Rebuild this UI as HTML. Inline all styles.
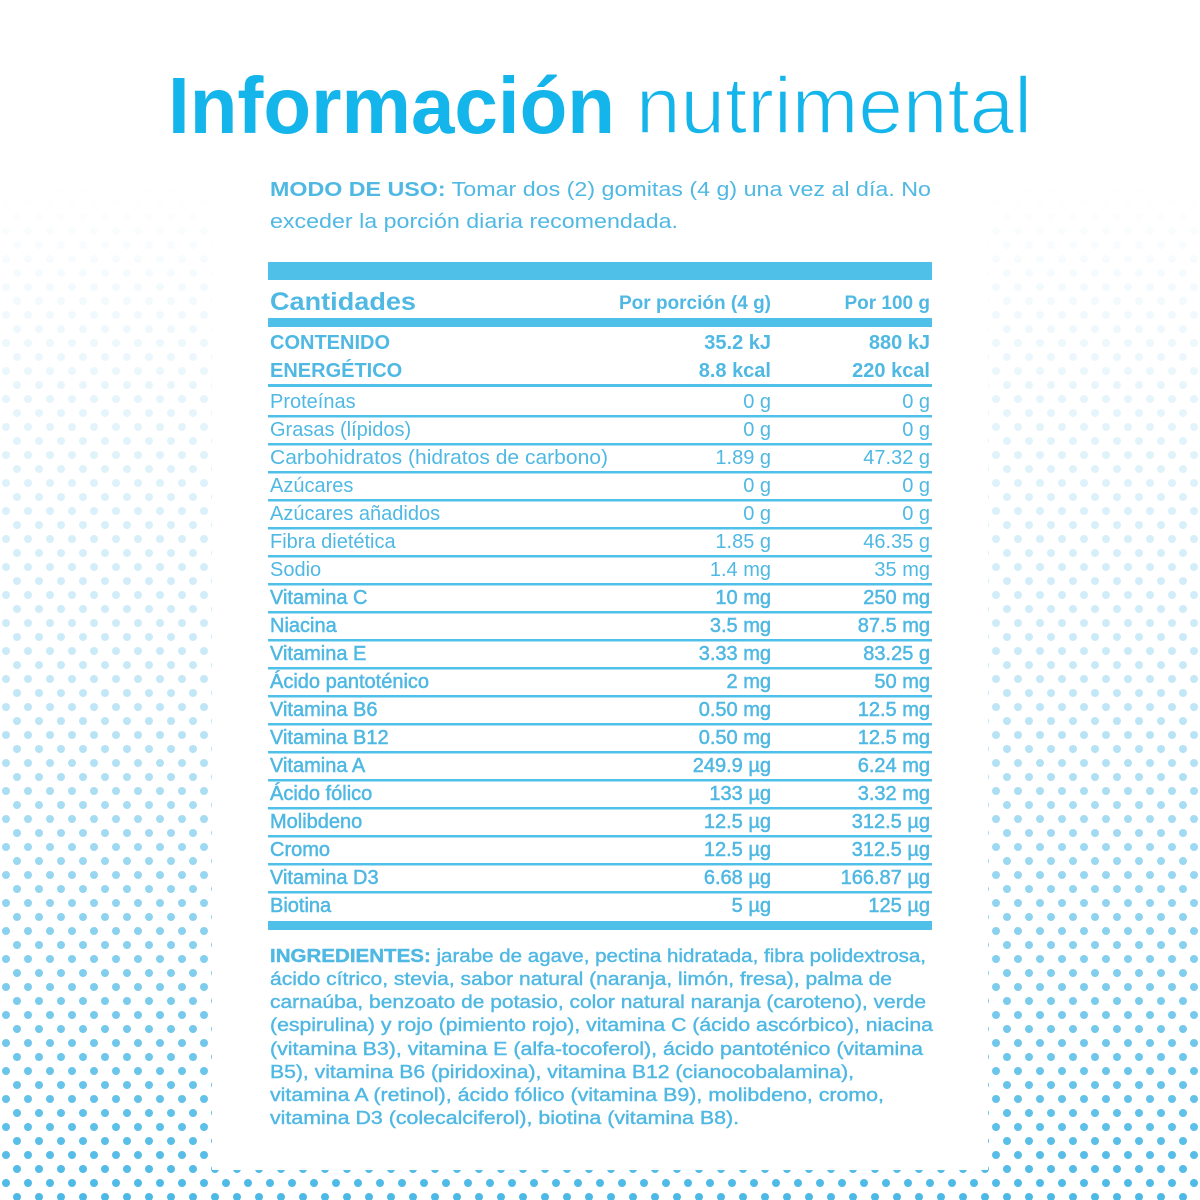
<!DOCTYPE html>
<html><head><meta charset="utf-8"><style>
html,body{margin:0;padding:0;background:#fff}
svg{display:block}
text{font-family:"Liberation Sans",sans-serif;fill:#4fb8e3}
.t{font-size:20px}
.b{font-weight:bold}
.m{stroke:#4fb8e3;stroke-width:0.5}
</style></head><body>
<svg width="1200" height="1200" viewBox="0 0 1200 1200" xmlns="http://www.w3.org/2000/svg">
<defs>
<pattern id="dots" width="22" height="28" patternUnits="userSpaceOnUse">
<circle cx="6" cy="7" r="4" fill="#4cb9e6"/>
<circle cx="17" cy="21" r="4" fill="#4cb9e6"/>
</pattern>
<linearGradient id="fade" x1="0" y1="0" x2="0" y2="1">
<stop offset="0.15" stop-color="#fff" stop-opacity="0"/>
<stop offset="0.55" stop-color="#fff" stop-opacity="0.3"/>
<stop offset="1" stop-color="#fff" stop-opacity="1"/>
</linearGradient>
<mask id="mk"><rect width="1200" height="1200" fill="url(#fade)"/></mask>
</defs>
<rect width="1200" height="1200" fill="#fff"/>
<rect width="1200" height="1200" fill="url(#dots)" mask="url(#mk)"/>
<rect x="212" y="0" width="776" height="1170" fill="#fff"/>

<text x="168" y="133" font-size="80" font-weight="bold" textLength="447" lengthAdjust="spacingAndGlyphs" style="fill:#14b5ea">Información</text>
<text x="636" y="133" font-size="80" textLength="396" lengthAdjust="spacingAndGlyphs" style="fill:#14b5ea;stroke:#fff;stroke-width:1.6">nutrimental</text>

<text x="270" y="196" font-size="20" textLength="661" lengthAdjust="spacingAndGlyphs"><tspan font-weight="bold">MODO DE USO:</tspan> Tomar dos (2) gomitas (4 g) una vez al día. No</text>
<text x="270" y="228" font-size="20" textLength="408" lengthAdjust="spacingAndGlyphs">exceder la porción diaria recomendada.</text>

<rect x="268" y="262" width="664" height="18" fill="#4fc0e8"/>
<text x="270" y="310" font-size="25" font-weight="bold" textLength="146" lengthAdjust="spacingAndGlyphs">Cantidades</text>
<text x="771" y="309" font-size="19" font-weight="bold" text-anchor="end">Por porción (4 g)</text>
<text x="930" y="309" font-size="19" font-weight="bold" text-anchor="end">Por 100 g</text>
<rect x="268" y="318" width="664" height="9" fill="#4fc0e8"/>

<text x="270" y="349" class="t b">CONTENIDO</text>
<text x="771" y="349" class="t b" text-anchor="end">35.2 kJ</text>
<text x="930" y="349" class="t b" text-anchor="end">880 kJ</text>
<text x="270" y="377" class="t b">ENERGÉTICO</text>
<text x="771" y="377" class="t b" text-anchor="end">8.8 kcal</text>
<text x="930" y="377" class="t b" text-anchor="end">220 kcal</text>
<rect x="268" y="384" width="664" height="3" fill="#4fc0e8"/>

<g class="t">
<text x="270" y="408">Proteínas</text><text x="771" y="408" text-anchor="end">0 g</text><text x="930" y="408" text-anchor="end">0 g</text>
<text x="270" y="436">Grasas (lípidos)</text><text x="771" y="436" text-anchor="end">0 g</text><text x="930" y="436" text-anchor="end">0 g</text>
<text x="270" y="464" textLength="338" lengthAdjust="spacingAndGlyphs">Carbohidratos (hidratos de carbono)</text><text x="771" y="464" text-anchor="end">1.89 g</text><text x="930" y="464" text-anchor="end">47.32 g</text>
<text x="270" y="492">Azúcares</text><text x="771" y="492" text-anchor="end">0 g</text><text x="930" y="492" text-anchor="end">0 g</text>
<text x="270" y="520">Azúcares añadidos</text><text x="771" y="520" text-anchor="end">0 g</text><text x="930" y="520" text-anchor="end">0 g</text>
<text x="270" y="548">Fibra dietética</text><text x="771" y="548" text-anchor="end">1.85 g</text><text x="930" y="548" text-anchor="end">46.35 g</text>
<text x="270" y="576">Sodio</text><text x="771" y="576" text-anchor="end">1.4 mg</text><text x="930" y="576" text-anchor="end">35 mg</text>
</g>
<g class="t m">
<text x="270" y="604">Vitamina C</text><text x="771" y="604" text-anchor="end">10 mg</text><text x="930" y="604" text-anchor="end">250 mg</text>
<text x="270" y="632">Niacina</text><text x="771" y="632" text-anchor="end">3.5 mg</text><text x="930" y="632" text-anchor="end">87.5 mg</text>
<text x="270" y="660">Vitamina E</text><text x="771" y="660" text-anchor="end">3.33 mg</text><text x="930" y="660" text-anchor="end">83.25 g</text>
<text x="270" y="688">Ácido pantoténico</text><text x="771" y="688" text-anchor="end">2 mg</text><text x="930" y="688" text-anchor="end">50 mg</text>
<text x="270" y="716">Vitamina B6</text><text x="771" y="716" text-anchor="end">0.50 mg</text><text x="930" y="716" text-anchor="end">12.5 mg</text>
<text x="270" y="744">Vitamina B12</text><text x="771" y="744" text-anchor="end">0.50 mg</text><text x="930" y="744" text-anchor="end">12.5 mg</text>
<text x="270" y="772">Vitamina A</text><text x="771" y="772" text-anchor="end">249.9 µg</text><text x="930" y="772" text-anchor="end">6.24 mg</text>
<text x="270" y="800">Ácido fólico</text><text x="771" y="800" text-anchor="end">133 µg</text><text x="930" y="800" text-anchor="end">3.32 mg</text>
<text x="270" y="828">Molibdeno</text><text x="771" y="828" text-anchor="end">12.5 µg</text><text x="930" y="828" text-anchor="end">312.5 µg</text>
<text x="270" y="856">Cromo</text><text x="771" y="856" text-anchor="end">12.5 µg</text><text x="930" y="856" text-anchor="end">312.5 µg</text>
<text x="270" y="884">Vitamina D3</text><text x="771" y="884" text-anchor="end">6.68 µg</text><text x="930" y="884" text-anchor="end">166.87 µg</text>
<text x="270" y="912">Biotina</text><text x="771" y="912" text-anchor="end">5 µg</text><text x="930" y="912" text-anchor="end">125 µg</text>
</g>
<g fill="#4fc0e8">
<rect x="268" y="415" width="664" height="2.5"/>
<rect x="268" y="443" width="664" height="2.5"/>
<rect x="268" y="471" width="664" height="2.5"/>
<rect x="268" y="499" width="664" height="2.5"/>
<rect x="268" y="527" width="664" height="2.5"/>
<rect x="268" y="555" width="664" height="2.5"/>
<rect x="268" y="583" width="664" height="2.5"/>
<rect x="268" y="611" width="664" height="2.5"/>
<rect x="268" y="639" width="664" height="2.5"/>
<rect x="268" y="667" width="664" height="2.5"/>
<rect x="268" y="695" width="664" height="2.5"/>
<rect x="268" y="723" width="664" height="2.5"/>
<rect x="268" y="751" width="664" height="2.5"/>
<rect x="268" y="779" width="664" height="2.5"/>
<rect x="268" y="807" width="664" height="2.5"/>
<rect x="268" y="835" width="664" height="2.5"/>
<rect x="268" y="863" width="664" height="2.5"/>
<rect x="268" y="891" width="664" height="2.5"/>
<rect x="268" y="921" width="664" height="9"/>
</g>

<g font-size="18.5" class="m" style="stroke-width:0.4">
<text x="270" y="962" textLength="656" lengthAdjust="spacingAndGlyphs"><tspan font-weight="bold">INGREDIENTES:</tspan> jarabe de agave, pectina hidratada, fibra polidextrosa,</text>
<text x="270" y="985" textLength="622" lengthAdjust="spacingAndGlyphs">ácido cítrico, stevia, sabor natural (naranja, limón, fresa), palma de</text>
<text x="270" y="1008" textLength="656" lengthAdjust="spacingAndGlyphs">carnaúba, benzoato de potasio, color natural naranja (caroteno), verde</text>
<text x="270" y="1031" textLength="663" lengthAdjust="spacingAndGlyphs">(espirulina) y rojo (pimiento rojo), vitamina C (ácido ascórbico), niacina</text>
<text x="270" y="1055" textLength="653" lengthAdjust="spacingAndGlyphs">(vitamina B3), vitamina E (alfa-tocoferol), ácido pantoténico (vitamina</text>
<text x="270" y="1078" textLength="584" lengthAdjust="spacingAndGlyphs">B5), vitamina B6 (piridoxina), vitamina B12 (cianocobalamina),</text>
<text x="270" y="1101" textLength="614" lengthAdjust="spacingAndGlyphs">vitamina A (retinol), ácido fólico (vitamina B9), molibdeno, cromo,</text>
<text x="270" y="1124" textLength="469" lengthAdjust="spacingAndGlyphs">vitamina D3 (colecalciferol), biotina (vitamina B8).</text>
</g>
</svg>
</body></html>
